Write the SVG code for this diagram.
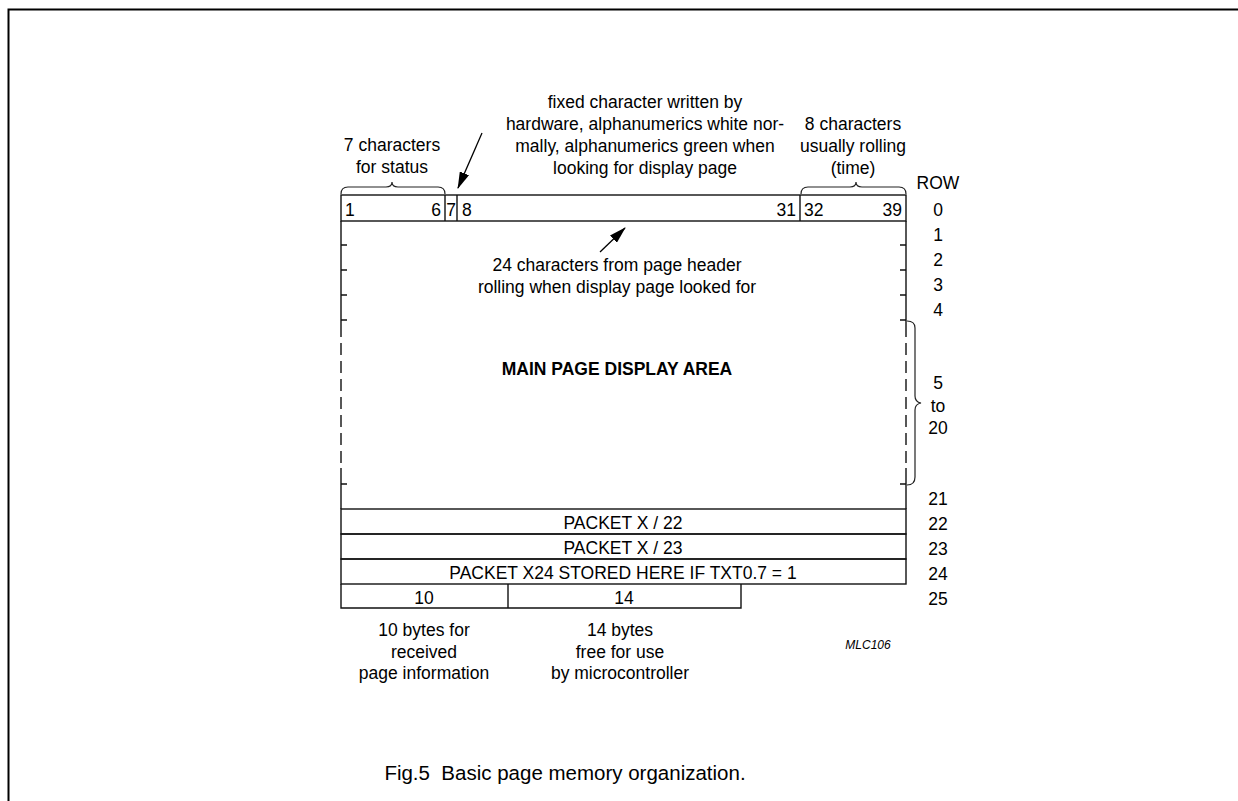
<svg xmlns="http://www.w3.org/2000/svg" width="1238" height="801" viewBox="0 0 1238 801">
<style>
text{font-family:"Liberation Sans",Arial,sans-serif;font-size:17.5px;fill:#000}
.c{text-anchor:middle}
.e{text-anchor:end}
.ln{stroke:#111;stroke-width:1.4;fill:none}
.br{stroke:#222;stroke-width:1.2;fill:none}
.b{font-weight:bold}
</style>
<defs>
<marker id="ah" markerWidth="17" markerHeight="10" refX="16" refY="5" orient="auto" markerUnits="userSpaceOnUse">
<path d="M0,0 L17,5 L0,10 Z" fill="#000"/>
</marker>
</defs>
<rect width="1238" height="801" fill="#fff"/>
<path d="M8.5,801 V9.5 H1238" stroke="#000" stroke-width="2" fill="none"/>

<g id="row0">
<rect x="341" y="195" width="565" height="26" class="ln"/>
<line x1="445" y1="195" x2="445" y2="221" class="ln"/>
<line x1="457" y1="195" x2="457" y2="221" class="ln"/>
<line x1="800" y1="195" x2="800" y2="221" class="ln"/>
<text x="345" y="216">1</text>
<text x="441" y="216" class="e">6</text>
<text x="451" y="216" class="c">7</text>
<text x="462" y="216">8</text>
<text x="796" y="216" class="e">31</text>
<text x="804" y="216">32</text>
<text x="902" y="216" class="e">39</text>
</g>

<g id="main-area">
<path class="ln" d="M341,221 V337 M341,468 V509 M906,221 V337 M906,468 V509"/>
<path class="ln" d="M341,343 V463 M906,343 V463" stroke-dasharray="12 6"/>
<path class="ln" stroke-width="1.1" d="M341,245 H347 M341,270 H347 M341,295 H347 M341,320 H347 M341,484 H347 M906,245 H900 M906,270 H900 M906,295 H900 M906,320 H900 M906,484 H900"/>
<text x="617" y="375" class="c b">MAIN PAGE DISPLAY AREA</text>
<text x="617" y="271" class="c">24 characters from page header</text>
<text x="617" y="293" class="c">rolling when display page looked for</text>
</g>

<g id="packet22">
<rect x="341" y="509" width="565" height="25" class="ln"/>
<text x="623" y="529" class="c">PACKET X / 22</text>
</g>
<g id="packet23">
<rect x="341" y="534" width="565" height="25" class="ln"/>
<text x="623" y="554" class="c">PACKET X / 23</text>
</g>
<g id="packet24">
<rect x="341" y="559" width="565" height="25" class="ln"/>
<text x="623" y="579" class="c">PACKET X24 STORED HERE IF TXT0.7 = 1</text>
</g>
<g id="row25">
<path class="ln" d="M341,584 V608 H741 V584 M508,584 V608"/>
<text x="424" y="604" class="c">10</text>
<text x="624" y="604" class="c">14</text>
</g>

<g id="status-label">
<path class="br" d="M341,194 Q341,187 348,187 L386,187 Q392,187 392,182 Q392,187 398,187 L438,187 Q445,187 445,194"/>
<text x="392" y="151" class="c">7 characters</text>
<text x="392" y="173" class="c">for status</text>
</g>
<g id="time-label">
<path class="br" d="M801,194 Q801,187 808,187 L850,187 Q856,187 856,182 Q856,187 862,187 L899,187 Q906,187 906,194"/>
<text x="853" y="130" class="c">8 characters</text>
<text x="853" y="152" class="c">usually rolling</text>
<text x="853" y="174" class="c">(time)</text>
</g>
<g id="fixed-label">
<text x="645" y="108" class="c">fixed character written by</text>
<text x="645" y="130" class="c">hardware, alphanumerics white nor-</text>
<text x="645" y="152" class="c">mally, alphanumerics green when</text>
<text x="645" y="174" class="c">looking for display page</text>
</g>

<g id="row-labels">
<text x="938" y="189" class="c">ROW</text>
<text x="938" y="216" class="c">0</text>
<text x="938" y="241" class="c">1</text>
<text x="938" y="266" class="c">2</text>
<text x="938" y="291" class="c">3</text>
<text x="938" y="316" class="c">4</text>
<text x="938" y="389" class="c">5</text>
<text x="938" y="412" class="c">to</text>
<text x="938" y="434" class="c">20</text>
<text x="938" y="505" class="c">21</text>
<text x="938" y="530" class="c">22</text>
<text x="938" y="555" class="c">23</text>
<text x="938" y="580" class="c">24</text>
<text x="938" y="605" class="c">25</text>
<path class="br" d="M907,321 Q915,321 915,328 L915,396 Q915,402 921,403 Q915,404 915,410 L915,477 Q915,485 907,485"/>
</g>

<g id="bottom-labels">
<text x="424" y="636" class="c">10 bytes for</text>
<text x="424" y="658" class="c">received</text>
<text x="424" y="679" class="c">page information</text>
<text x="620" y="636" class="c">14 bytes</text>
<text x="620" y="658" class="c">free for use</text>
<text x="620" y="679" class="c">by microcontroller</text>
<text x="868" y="649" class="c" style="font-size:12px;font-style:italic">MLC106</text>
</g>

<g id="connectors">
<line x1="482" y1="133" x2="458" y2="188" stroke="#000" stroke-width="1.3" marker-end="url(#ah)"/>
<line x1="600" y1="252" x2="625" y2="228" stroke="#000" stroke-width="1.3" marker-end="url(#ah)"/>
</g>

<text x="565" y="780" class="c" xml:space="preserve" style="font-size:20.5px;white-space:pre">Fig.5  Basic page memory organization.</text>
</svg>
